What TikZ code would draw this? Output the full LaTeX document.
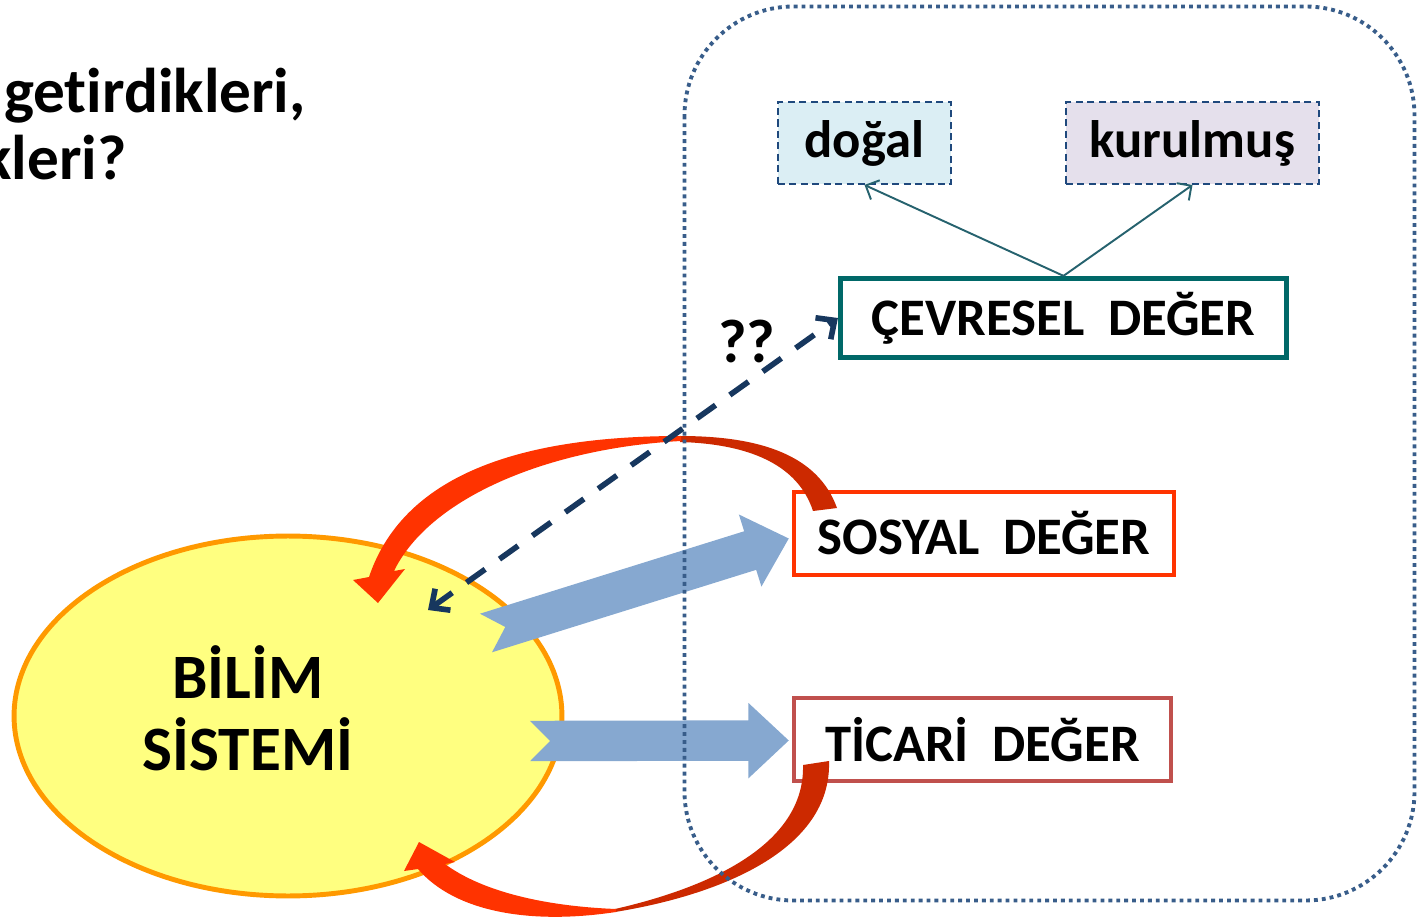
\documentclass[tikz,border=0pt]{standalone}
\usepackage{fontspec}
\setmainfont{Carlito}[Ligatures=NoCommon]
\usetikzlibrary{calc,arrows.meta,shapes.geometric}

\definecolor{arrowblue}{RGB}{134,168,208}
\definecolor{elfill}{RGB}{255,255,128}
\definecolor{elline}{RGB}{255,153,0}
\definecolor{groupline}{RGB}{56,93,138}
\definecolor{dashline}{RGB}{23,55,94}
\definecolor{natfill}{RGB}{219,238,244}
\definecolor{builtfill}{RGB}{229,224,236}
\definecolor{boxdash}{RGB}{31,73,125}
\definecolor{envline}{RGB}{0,104,104}
\definecolor{socline}{RGB}{255,51,0}
\definecolor{comline}{RGB}{192,80,77}
\definecolor{backdark}{RGB}{204,41,0}
\definecolor{backlight}{RGB}{255,51,0}
\definecolor{branchline}{RGB}{38,98,110}

\begin{document}
\begin{tikzpicture}
[
    x=0.02cm, y=-0.02cm,
    big/.style={font=\fontsize{36}{41}\selectfont\bfseries},
    value/.style={draw, fill=white, line width=2.6pt, inner sep=0pt,
        minimum height=1.66cm, font=\fontsize{30}{36}\selectfont\bfseries},
    kind/.style={draw=boxdash, line width=1.1pt, dash pattern=on 4pt off 2.5pt,
        inner sep=0pt, minimum height=1.64cm, font=\fontsize{30}{36}\selectfont\bfseries},
    branch/.style={draw=branchline, line width=1.1pt, -{Straight Barb[length=6pt,width=12pt]}},
    link/.style={draw=dashline, line width=3.2pt, dash pattern=on 13pt off 10pt,
        arrows={Straight Barb[length=8pt,width=15pt]-Straight Barb[length=8pt,width=15pt]}},
    fat arrow/.style={fill=arrowblue, to path={
        let \p1=(\tikztostart), \p2=(\tikztotarget),
            \n1={atan2(\y2-\y1,\x2-\x1)}, \n2={veclen(\x2-\x1,\y2-\y1)} in
        ($(\p1)+({\n1+90}:11.5pt)$)
        -- ($(\p1)+(\n1:{\n2-23pt})+({\n1+90}:11.5pt)$)
        -- ($(\p1)+(\n1:{\n2-23pt})+({\n1+90}:21.5pt)$)
        -- (\p2)
        -- ($(\p1)+(\n1:{\n2-23pt})+({\n1-90}:21.5pt)$)
        -- ($(\p1)+(\n1:{\n2-23pt})+({\n1-90}:11.5pt)$)
        -- ($(\p1)+({\n1-90}:11.5pt)$)
        -- ($(\p1)+(\n1:11.5pt)$) -- cycle}},
]
\useasboundingbox (0,0) rectangle (1423,918);
\clip (0,0) rectangle (1423,918);

\node [big, anchor=base east, inner sep=0pt] (q1) at (306,113) {get\kern0pt irdikleri,};
\node [big, anchor=base east, inner sep=0pt] (q2) at (127,180) {kleri?};

\node [ellipse, draw=elline, fill=elfill, line width=2.8pt, inner sep=0pt,
    minimum width=10.96cm, minimum height=7.2cm] (ell) at (288,716) {};
\node [big, align=center] (sci) at (248,708) {BİLİM\\SİSTEMİ};

\node [value, draw=envline, line width=3pt, minimum width=8.92cm, minimum height=1.58cm]
    (env) at (1063.5,318) {ÇEVRESEL\ \ DEĞER};
\node [value, draw=socline, minimum width=7.6cm] (soc) at (984,533.5) {SOSYAL\ \ DEĞER};
\node [value, draw=comline, minimum width=7.54cm] (com) at (982.5,739.5) {TİCARİ\ \ DEĞER};
\node [kind, fill=natfill, minimum width=3.46cm] (nat) at (864.5,143) {doğal};
\node [kind, fill=builtfill, minimum width=5.06cm] (built) at (1192.5,143) {kurulmuş};

\draw [branch] (env.north) -- (nat.south);
\draw [branch] (env.north) -- (built.south);

\coordinate (t1) at (486,633);
\coordinate (t2) at (530,741);
\path [fat arrow] (t1) to ([shift={(-3,5)}]soc.west);
\path [fat arrow] (t2) to ([shift={(-3,1)}]com.west);

\fill [backdark] (837,508) .. controls (818,455) and (760,436) .. (680,436)
    -- (680,442) .. controls (750,444) and (798,465) .. (813,511) -- cycle;
\fill [backlight] (681,436) .. controls (530,436) and (405,470) .. (369,577)
    -- (353,580) -- (378,603) -- (405,569) -- (394,571)
    .. controls (430,497) and (550,448) .. (681,441) -- cycle;
\fill [backdark] (829,761) .. controls (832,850) and (720,895) .. (615,912)
    -- (615,909) .. controls (720,885) and (805,840) .. (803,765) -- cycle;
\fill [backlight] (616,912) .. controls (530,925) and (455,912) .. (418,869)
    -- (404,871) -- (419,842) -- (455,862) -- (445,864)
    .. controls (480,890) and (540,906) .. (616,909) -- cycle;

\draw [groupline, line width=2.2pt, dash pattern=on 2.2pt off 2.3pt, rounded corners=62pt]
    (684.5,6.5) rectangle (1414.5,900.5);

\coordinate (q) at (428,610);
\draw [link] (q) -- (env.west);
\node [font=\fontsize{35}{40}\selectfont\bfseries] (qq) at (747,341) {??};
\end{tikzpicture}
\end{document}
